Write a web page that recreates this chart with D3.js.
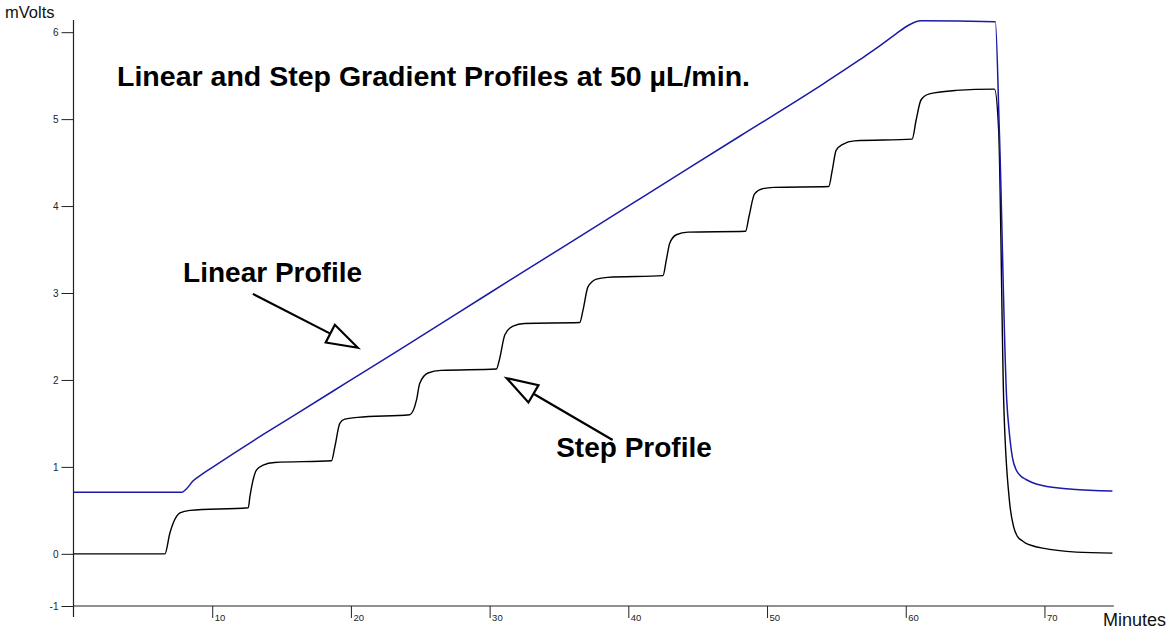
<!DOCTYPE html>
<html>
<head>
<meta charset="utf-8">
<script src="https://cdn.jsdelivr.net/npm/d3@7/dist/d3.min.js"></script>
<style>
  html, body { margin: 0; padding: 0; background: #fff; }
  svg { display: block; }
  text { font-family: "Liberation Sans", Arial, Helvetica, sans-serif; }
</style>
</head>
<body>
<svg id="chart" width="1169" height="629"></svg>
<script>
// ---- data (minutes, mVolts) ----
const linearProfile = [
  [0,0.707],[7.8,0.707],[8.1,0.74],[8.63,0.84],[9.3,0.92],[9.96,0.99],[13.8,1.385],
  [16.08,1.61],[19.8,1.98],[23.52,2.35],[30,3.0],[38.3,3.83],[40.8,4.08],[48,4.80],
  [54,5.40],[56.66,5.68],[58.2,5.85],[59.3,5.98],[60.2,6.08],[61.1,6.13],[66.46,6.12],
  [66.75,4.86],[67.28,1.77],[67.47,1.39],[67.7,1.1],[67.95,0.97],[68.25,0.9],[68.67,0.855],
  [69.2,0.815],[69.85,0.785],[72,0.744],[74.9,0.724]
];
const stepProfile = [
  [0,0],[6.59,0],[6.95,0.24],[7.43,0.43],[7.67,0.47],[8.4,0.5],[12.6,0.53],
  [12.72,0.66],[13.2,0.966],[13.67,1.02],[14.5,1.05],[18.6,1.07],
  [18.84,1.23],[19.2,1.5],[19.56,1.55],[20.5,1.57],[24.24,1.6],
  [24.73,1.77],[24.96,1.96],[25.56,2.08],[26.5,2.11],[30.49,2.126],
  [30.7,2.23],[31.1,2.52],[31.69,2.62],[32.5,2.65],[36.5,2.66],
  [36.73,2.8],[37.09,3.07],[37.7,3.16],[38.5,3.18],[42.5,3.2],
  [42.74,3.38],[42.98,3.57],[43.46,3.67],[44.3,3.7],[48.45,3.71],
  [48.7,3.88],[49.1,4.14],[49.7,4.2],[50.5,4.215],[54.45,4.225],
  [54.7,4.41],[54.98,4.64],[55.46,4.71],[56.3,4.75],[60.46,4.77],
  [60.75,4.99],[61.1,5.22],[61.7,5.29],[63.6,5.33],[66.4,5.345],
  [66.7,4.87],[67.06,1.77],[67.47,0.62],[67.78,0.31],[68.05,0.2],[68.4,0.15],[68.67,0.12],
  [69.2,0.09],[69.87,0.065],[72.3,0.02],[74.9,0.008]
];
const xTickValues = [10,20,30,40,50,60,70];
const xTickLabels = ["10","20","30","40","50","60","70"];
const yTickValues = [-0.6,0,1,2,3,4,5,6];
const yTickLabels = ["-1","0","1","2","3","4","5","6"];
const xDomain = [0,75];
const yDomain = [-0.6,6.14];
const titleText = "Linear and Step Gradient Profiles at 50 µL/min.";
const yAxisTitle = "mVolts";
const xAxisTitle = "Minutes";
// annotations: label, label anchor (t,v), arrow tail (t,v), arrow tip (t,v)
const annotations = [
  { label: "Linear Profile", at: [7.9, 3.13], tail: [12.93, 2.99], tip: [20.5, 2.37] },
  { label: "Step Profile",  at: [34.8, 1.11], tail: [38.87, 1.31], tip: [31.23, 2.02] }
];

// ---- layout ----
const svg = d3.select("#chart");
const x = d3.scaleLinear().domain(xDomain).range([73.5, 1113.8]);
const y = d3.scaleLinear().domain(yDomain).range([606, 20]);

const axisColor = "#222";
const g = svg.append("g");

// axes
const xAxis = d3.axisBottom(x).tickValues(xTickValues)
  .tickFormat((d,i) => xTickLabels[i]).tickSize(12).tickSizeOuter(0);
const gx = g.append("g").attr("transform", `translate(0,${y(yDomain[0])})`).call(xAxis);
gx.select(".domain").remove();
gx.selectAll(".tick line").attr("stroke", axisColor);
gx.selectAll(".tick text").attr("x", 2).attr("y", 8).attr("dy", "0.71em")
  .attr("text-anchor", "start").style("font-size", "9.5px").attr("fill", "#222");

const yAxis = d3.axisLeft(y).tickValues(yTickValues)
  .tickFormat((d,i) => yTickLabels[i]).tickSize(12).tickSizeOuter(0);
const gy = g.append("g").attr("transform", `translate(${x(0)},0)`).call(yAxis);
gy.select(".domain").remove();
gy.selectAll(".tick line").attr("stroke", axisColor);
gy.selectAll(".tick text").attr("x", -15).style("font-size", "10px").attr("fill", "#222");

// axis lines
g.append("line").attr("x1", x(0)).attr("x2", x(xDomain[1]))
  .attr("y1", y(yDomain[0])).attr("y2", y(yDomain[0]))
  .attr("stroke", axisColor).attr("stroke-width", 1.2);
g.append("line").attr("x1", x(0)).attr("x2", x(0))
  .attr("y1", y(yDomain[1])).attr("y2", y(yDomain[0]) + 11)
  .attr("stroke", axisColor).attr("stroke-width", 1.2);

// axis titles
g.append("text").attr("x", 5).attr("y", 18).text(yAxisTitle)
  .style("font-size", "16.5px").attr("fill", "#111");
g.append("text").attr("x", 1166).attr("y", 626).attr("text-anchor", "end").text(xAxisTitle)
  .style("font-size", "18px").attr("fill", "#111");

// lines
const line = d3.line().x(d => x(d[0])).y(d => y(d[1])).curve(d3.curveMonotoneX);
g.append("path").datum(stepProfile).attr("d", line)
  .attr("fill", "none").attr("stroke", "#000").attr("stroke-width", 1.4);
g.append("path").datum(linearProfile).attr("d", line)
  .attr("fill", "none").attr("stroke", "#1a1aa6").attr("stroke-width", 1.5);

// title
g.append("text").attr("x", 117).attr("y", 86).text(titleText)
  .style("font-size", "28px").style("font-weight", "bold").attr("fill", "#000")
  .attr("textLength", 633).attr("lengthAdjust", "spacingAndGlyphs");

// annotations
annotations.forEach(a => {
  g.append("text").attr("x", x(a.at[0])).attr("y", y(a.at[1])).text(a.label)
    .style("font-size", "28px").style("font-weight", "bold").attr("fill", "#000");
  const tx = x(a.tail[0]), ty = y(a.tail[1]), px = x(a.tip[0]), py = y(a.tip[1]);
  const dx = px - tx, dy = py - ty, len = Math.hypot(dx, dy);
  const ux = dx / len, uy = dy / len;
  const hl = 31, hw = 10;
  const bx = px - ux * hl, by = py - uy * hl;
  g.append("line").attr("x1", tx).attr("y1", ty).attr("x2", bx).attr("y2", by)
    .attr("stroke", "#000").attr("stroke-width", 2.2);
  g.append("path")
    .attr("d", `M${px},${py}L${bx - uy * hw},${by + ux * hw}L${bx + uy * hw},${by - ux * hw}Z`)
    .attr("fill", "#fff").attr("stroke", "#000").attr("stroke-width", 2.2)
    .attr("stroke-linejoin", "miter");
});
</script>
</body>
</html>
